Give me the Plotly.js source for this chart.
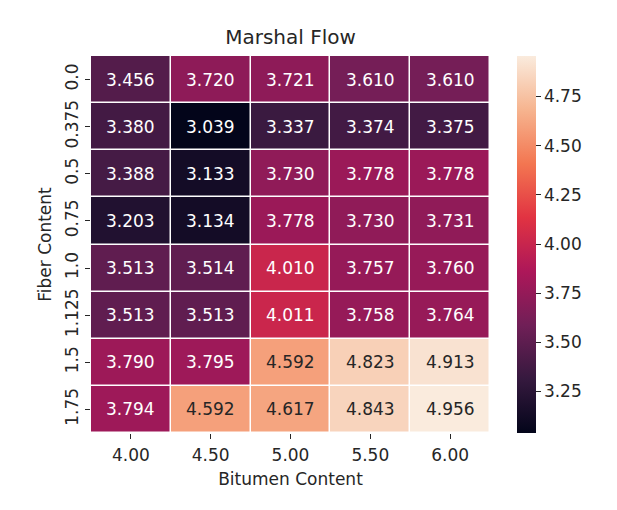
<!DOCTYPE html>
<html>
<head>
<meta charset="utf-8">
<script src="https://cdn.plot.ly/plotly-3.0.1.min.js"></script>
<style>
  html, body { margin: 0; padding: 0; background: #fff; }
  #chart { width: 617px; height: 510px; }
</style>
</head>
<body>
<div id="chart"></div>
<script>
// Bitumen content (columns) and fiber content (rows)
const bitumen = ["4.00", "4.50", "5.00", "5.50", "6.00"];
const fiber = ["0.0", "0.375", "0.5", "0.75", "1.0", "1.125", "1.5", "1.75"];

// Marshal flow, one row per fiber content
const flow0 = [3.456, 3.720, 3.721, 3.610, 3.610];
const flow1 = [3.380, 3.039, 3.337, 3.374, 3.375];
const flow2 = [3.388, 3.133, 3.730, 3.778, 3.778];
const flow3 = [3.203, 3.134, 3.778, 3.730, 3.731];
const flow4 = [3.513, 3.514, 4.010, 3.757, 3.760];
const flow5 = [3.513, 3.513, 4.011, 3.758, 3.764];
const flow6 = [3.790, 3.795, 4.592, 4.823, 4.913];
const flow7 = [3.794, 4.592, 4.617, 4.843, 4.956];
const flow = [flow0, flow1, flow2, flow3, flow4, flow5, flow6, flow7];

const cbTicks = [3.25, 3.50, 3.75, 4.00, 4.25, 4.50, 4.75];

// "rocket" colour map
const rocket = [
  [0.0, "#03051a"],
  [1 / 7, "#35193e"],
  [2 / 7, "#701f57"],
  [3 / 7, "#ad1759"],
  [4 / 7, "#e13342"],
  [5 / 7, "#f37651"],
  [6 / 7, "#f6b48f"],
  [1.0, "#faebdd"]
];

const all = flow.flat();
const zmin = Math.min(...all);
const zmax = Math.max(...all);

function hexToRgb(h) {
  return [1, 3, 5].map(i => parseInt(h.slice(i, i + 2), 16) / 255);
}
function colourAt(v) {
  const t = (v - zmin) / (zmax - zmin);
  for (let i = 1; i < rocket.length; i++) {
    if (t <= rocket[i][0]) {
      const a = rocket[i - 1], b = rocket[i];
      const f = (t - a[0]) / (b[0] - a[0]);
      const ca = hexToRgb(a[1]), cb = hexToRgb(b[1]);
      return ca.map((c, k) => c + f * (cb[k] - c));
    }
  }
  return hexToRgb(rocket[rocket.length - 1][1]);
}
function luminance(rgb) {
  const lin = rgb.map(c => c <= 0.03928 ? c / 12.92 : Math.pow((c + 0.055) / 1.055, 2.4));
  return 0.2126 * lin[0] + 0.7152 * lin[1] + 0.0722 * lin[2];
}

const font = "DejaVu Sans, sans-serif";
const ink = "#262626";

// Cell labels, light on dark cells and dark on light cells
const annotations = [];
fiber.forEach((f, r) => {
  bitumen.forEach((b, c) => {
    const v = flow[r][c];
    annotations.push({
      x: c, y: r, xref: "x", yref: "y",
      text: v.toFixed(3),
      showarrow: false,
      font: { family: font, size: 17, color: luminance(colourAt(v)) > 0.408 ? ink : "#ffffff" }
    });
  });
});

const trace = {
  type: "heatmap",
  x: bitumen,
  y: fiber,
  z: flow,
  zmin: zmin,
  zmax: zmax,
  colorscale: rocket,
  xgap: 1.5,
  ygap: 1.5,
  hoverongaps: false,
  colorbar: {
    x: 517 / 617, xanchor: "left", xref: "container",
    y: 1, yanchor: "top", yref: "paper",
    len: 1, lenmode: "fraction",
    thickness: 19, thicknessmode: "pixels",
    xpad: 0, ypad: 0,
    outlinewidth: 0,
    tickvals: cbTicks,
    ticktext: cbTicks.map(v => v.toFixed(2)),
    ticks: "outside", ticklen: 5, tickwidth: 1, tickcolor: ink,
    tickfont: { family: font, size: 17, color: ink }
  }
};

const layout = {
  width: 617,
  height: 510,
  margin: { l: 91, r: 127, t: 56, b: 77, autoexpand: false },
  paper_bgcolor: "#ffffff",
  plot_bgcolor: "#ffffff",
  font: { family: font, color: ink },
  title: {
    text: "Marshal Flow",
    font: { family: font, size: 20, color: ink },
    xref: "paper", x: 0.5, xanchor: "center",
    yref: "container", y: 1 - 37 / 510, yanchor: "middle"
  },
  xaxis: {
    type: "category",
    title: { text: "Bitumen Content", font: { family: font, size: 17, color: ink }, standoff: 8 },
    ticks: "outside", ticklen: 5, tickwidth: 1, tickcolor: ink,
    ticklabelstandoff: 2,
    tickfont: { family: font, size: 17, color: ink },
    showgrid: false, zeroline: false, showline: false
  },
  yaxis: {
    type: "category",
    autorange: "reversed",
    tickangle: -90,
    title: { text: "Fiber Content", font: { family: font, size: 17, color: ink }, standoff: 6 },
    ticks: "outside", ticklen: 5, tickwidth: 1, tickcolor: ink,
    tickfont: { family: font, size: 17, color: ink },
    showgrid: false, zeroline: false, showline: false
  },
  annotations: annotations
};

Plotly.newPlot("chart", [trace], layout, { displayModeBar: false, staticPlot: true });
</script>
</body>
</html>
